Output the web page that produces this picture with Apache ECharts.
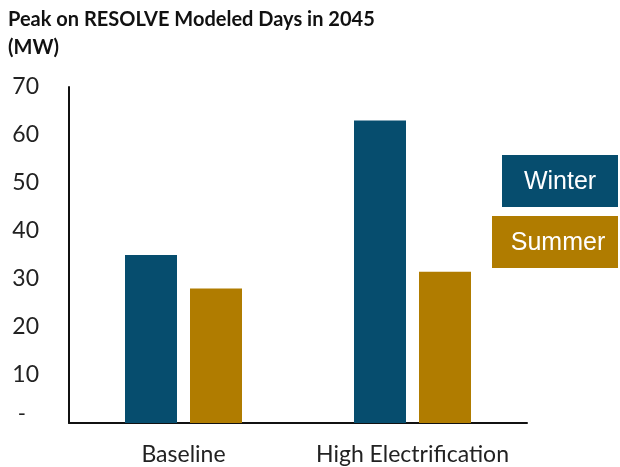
<!DOCTYPE html>
<html>
<head>
<meta charset="utf-8">
<script src="https://cdn.jsdelivr.net/npm/echarts@6/dist/echarts.min.js"></script>
<style>
    html, body { margin: 0; padding: 0; background: #fff; }
    #chart { width: 620px; height: 467px; }
</style>
</head>
<body>
<div id="chart"></div>
<script>
var categories = ['Baseline', 'High Electrification'];
var seriesNames = ['Winter', 'Summer'];
var winterVals = [35, 63];
var summerVals = [28, 31.5];
var yTicks = [0, 10, 20, 30, 40, 50, 60, 70];

var colors = ['#064d6e', '#b07c00'];
var font = 'Lato, "Open Sans", sans-serif';

var myChart = echarts.init(document.getElementById('chart'));

var option = {
    animation: false,
    title: {
        text: 'Peak on RESOLVE Modeled Days in 2045\n(MW)',
        left: 3,
        top: 1,
        textStyle: {
            fontFamily: font,
            fontWeight: 'bold',
            fontSize: 20,
            lineHeight: 28,
            color: '#111'
        }
    },
    grid: {
        left: 69,
        right: 93,
        top: 87,
        bottom: 44
    },
    xAxis: {
        type: 'category',
        data: categories,
        axisLine: { lineStyle: { color: '#111', width: 2 } },
        axisTick: { show: false },
        axisLabel: {
            interval: 0,
            hideOverlap: false,
            margin: 20,
            fontFamily: font,
            fontSize: 23,
            color: '#222'
        }
    },
    yAxis: {
        type: 'value',
        min: yTicks[0],
        max: yTicks[yTicks.length - 1],
        interval: 10,
        splitLine: { show: false },
        axisTick: { show: false },
        axisLine: { show: true, lineStyle: { color: '#111', width: 2 } },
        axisLabel: {
            margin: 30,
            fontFamily: font,
            fontSize: 23,
            color: '#222',
            formatter: function(v) {
                return v === 0 ? '{d|-}' : v;
            },
            rich: {
                d: {
                    fontFamily: font,
                    fontSize: 22,
                    color: '#222',
                    padding: [0, 13, 18, 0]
                }
            }
        }
    },
    series: [{
        name: seriesNames[0],
        type: 'bar',
        data: winterVals,
        barWidth: 52,
        barGap: '25%',
        itemStyle: { color: colors[0] }
    }, {
        name: seriesNames[1],
        type: 'bar',
        data: summerVals,
        barWidth: 52,
        itemStyle: { color: colors[1] }
    }],
    graphic: [{
        type: 'group',
        right: 2,
        top: 155,
        children: [{
            type: 'rect',
            shape: { x: 0, y: 0, width: 116, height: 52 },
            style: { fill: colors[0] }
        }, {
            type: 'text',
            x: 58,
            y: 27,
            style: {
                text: seriesNames[0],
                fill: '#fff',
                fontFamily: 'Liberation Sans, Arial, sans-serif',
                fontSize: 25,
                align: 'center',
                verticalAlign: 'middle'
            }
        }]
    }, {
        type: 'group',
        right: 2,
        top: 216,
        children: [{
            type: 'rect',
            shape: { x: 0, y: 0, width: 126, height: 52 },
            style: { fill: colors[1] }
        }, {
            type: 'text',
            x: 66,
            y: 27,
            style: {
                text: seriesNames[1],
                fill: '#fff',
                fontFamily: 'Liberation Sans, Arial, sans-serif',
                fontSize: 25,
                align: 'center',
                verticalAlign: 'middle'
            }
        }]
    }]
};

myChart.setOption(option);
</script>
</body>
</html>
